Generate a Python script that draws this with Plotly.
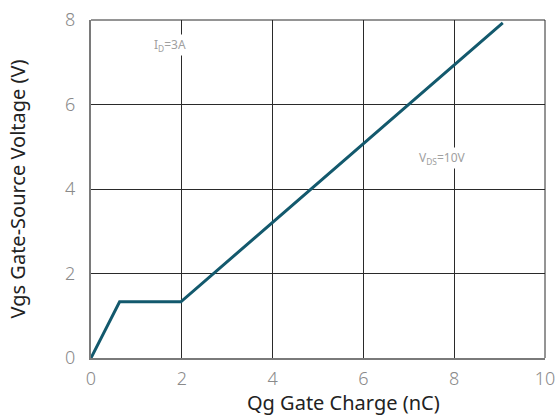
import plotly.graph_objects as go

qg = [0, 0.63, 1.98, 9.07]
vgs = [0, 1.33, 1.33, 7.93]
x_ticks = [0, 2, 4, 6, 8, 10]
y_ticks = [0, 2, 4, 6, 8]

fig = go.Figure()
fig.add_trace(go.Scatter(x=qg, y=vgs, mode="lines",
                         line=dict(color="#13596d", width=3), hoverinfo="skip"))

font_fam = "Noto Sans"
fig.add_annotation(x=1.74, y=7.4, text="I<sub>D</sub>=3A", showarrow=False,
                   font=dict(family=font_fam, size=12, color="#a0a0a0"),
                   bgcolor="white")
fig.add_annotation(x=7.75, y=4.73, text="V<sub>DS</sub>=10V", showarrow=False,
                   font=dict(family=font_fam, size=12, color="#a0a0a0"),
                   bgcolor="white")
# x-axis title (placed slightly right of centre as in the reference)
fig.add_annotation(xref="paper", yref="paper", x=0.557, y=-0.133,
                   xanchor="center", yanchor="middle", showarrow=False,
                   text="Qg Gate Charge (nC)",
                   font=dict(family=font_fam, size=20, color="#222222"))

# frame lines at top and right edges (same style as grid)
fig.add_shape(type="line", xref="x domain", yref="y domain", x0=0, x1=1, y0=1, y1=1,
              line=dict(color="#2a2a2a", width=1), layer="below")
fig.add_shape(type="line", xref="x domain", yref="y domain", x0=1, x1=1, y0=0, y1=1,
              line=dict(color="#2a2a2a", width=1), layer="below")

fig.update_layout(
    width=555, height=419,
    margin=dict(l=91, r=10, t=20, b=61),
    paper_bgcolor="white", plot_bgcolor="white",
    showlegend=False,
    font=dict(family=font_fam),
)
fig.update_xaxes(range=[0, 10], tickvals=x_ticks, showgrid=True, gridcolor="#2a2a2a",
                 gridwidth=1, zeroline=False, showline=True, linecolor="#7a7a7a",
                 linewidth=2, ticks="outside", ticklen=3, tickcolor="white",
                 automargin=False, ticklabeloverflow="allow",
                 tickfont=dict(size=18, color="#8a8a8a", weight=300))
fig.update_yaxes(range=[0, 8], tickvals=y_ticks, showgrid=True, gridcolor="#2a2a2a",
                 gridwidth=1, zeroline=False, showline=True, linecolor="#7a7a7a",
                 linewidth=2, ticks="outside", ticklen=10, tickcolor="white",
                 automargin=False, ticklabeloverflow="allow",
                 tickfont=dict(size=18, color="#8a8a8a", weight=300),
                 title=dict(text="Vgs Gate-Source Voltage (V)", standoff=34,
                            font=dict(size=20, color="#222222")))
fig.write_html("out.html", config={"displayModeBar": False},
               post_script="document.body.style.margin='0';document.body.style.overflow='hidden';")
